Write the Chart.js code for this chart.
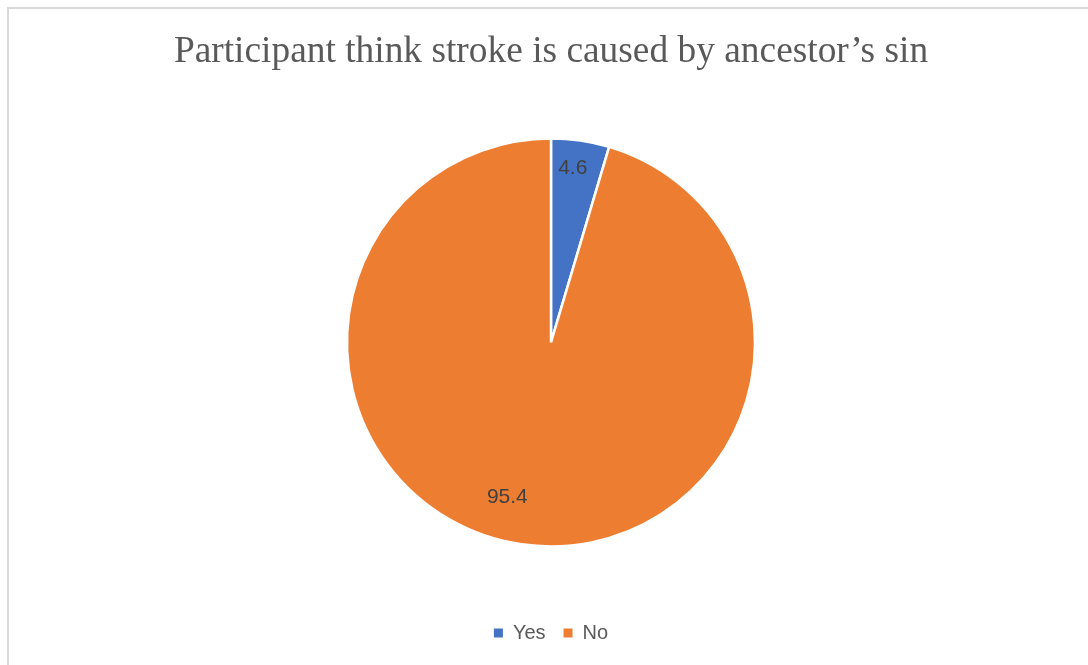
<!DOCTYPE html>
<html>
<head>
<meta charset="utf-8">
<script src="https://cdn.jsdelivr.net/npm/chart.js@4.4.0/dist/chart.umd.min.js"></script>
<style>
    html, body { margin: 0; padding: 0; background: #fff; overflow: hidden; }
    #frame {
        position: absolute; left: 7px; top: 7px; width: 1200px; height: 800px;
        border-left: 2px solid #d9d9d9; border-top: 2px solid #d9d9d9;
    }
    #wrap { position: absolute; left: 0; top: 0; width: 1088px; height: 665px; }
</style>
</head>
<body>
<div id="frame"></div>
<div id="wrap"><canvas id="pie-chart"></canvas></div>
<script>
const TITLE = "Participant think stroke is caused by ancestor\u2019s sin";
const categories = ["Yes", "No"];
const values = [4.6, 95.4];
const sliceColors = ['#4472C4', '#ED7D31'];

// draws the value inside each slice, like Excel's best-fit labels
const sliceLabels = {
    id: 'sliceLabels',
    afterDatasetsDraw(chart) {
        const { ctx } = chart;
        const meta = chart.getDatasetMeta(0);
        ctx.save();
        ctx.font = '21px "Liberation Sans", sans-serif';
        ctx.fillStyle = '#404040';
        ctx.textAlign = 'center';
        ctx.textBaseline = 'middle';
        meta.data.forEach((arc, i) => {
            const mid = (arc.startAngle + arc.endAngle) / 2;
            const r = arc.outerRadius * (i === 0 ? 0.86 : 0.79);
            const shift = i === 0 ? -0.02 : 0.13; // nudge labels like Excel's best fit
            ctx.fillText(String(values[i]), arc.x + Math.cos(mid + shift) * r, arc.y + Math.sin(mid + shift) * r);
        });
        ctx.restore();
    }
};

new Chart(document.getElementById('pie-chart'), {
    type: 'pie',
    data: {
        labels: categories,
        datasets: [{
            data: values,
            backgroundColor: sliceColors,
            borderColor: '#ffffff',
            borderWidth: 2.5,
            radius: 204
        }]
    },
    options: {
        responsive: true,
        maintainAspectRatio: false,
        animation: false,
        layout: { padding: { left: 14, right: 0, top: 0, bottom: 12 } },
        plugins: {
            title: {
                display: true,
                text: TITLE,
                color: '#595959',
                font: { family: '"Liberation Serif", "Times New Roman", serif', size: 37.4, weight: 'normal' },
                padding: { top: 30, bottom: 5 }
            },
            legend: {
                position: 'bottom',
                labels: {
                    color: '#595959',
                    font: { family: '"Liberation Sans", sans-serif', size: 20 },
                    boxWidth: 9,
                    boxHeight: 9,
                    padding: 18,
                    generateLabels(chart) {
                        const items = Chart.overrides.pie.plugins.legend.labels.generateLabels(chart);
                        return items.map(it => ({ ...it, lineWidth: 0 }));
                    }
                }
            },
            tooltip: { enabled: false }
        }
    },
    plugins: [sliceLabels]
});
</script>
</body>
</html>
